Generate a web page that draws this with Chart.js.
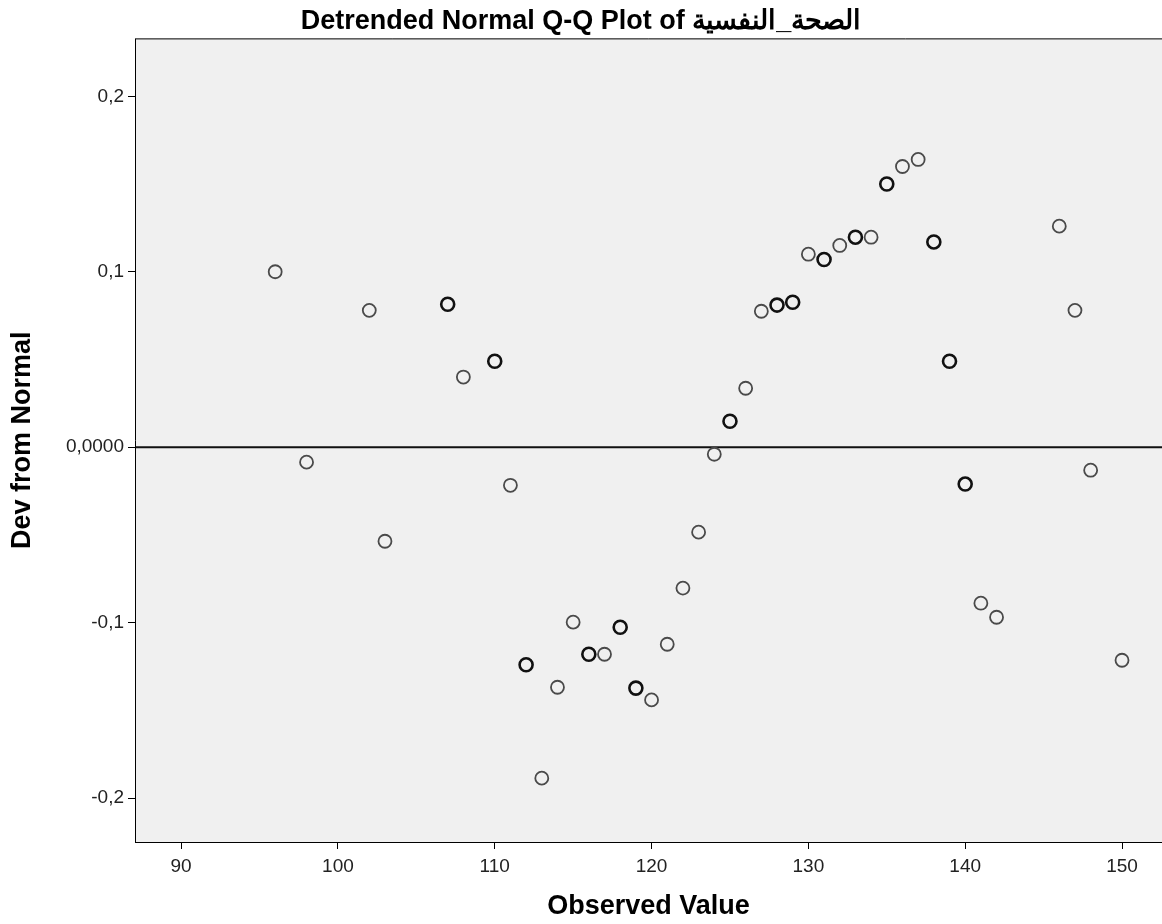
<!DOCTYPE html>
<html>
<head>
<meta charset="utf-8">
<script src="https://cdn.jsdelivr.net/npm/chart.js@4"></script>
<style>
  html, body { margin: 0; padding: 0; background: #fff; overflow: hidden; }
  #wrap { width: 1162px; height: 924px; }
</style>
</head>
<body>
<div id="wrap"><canvas id="qq"></canvas></div>
<script>
var observed = [96, 98, 102, 103, 107, 108, 110, 111, 112, 113, 114, 115, 116, 117, 118,
  119, 120, 121, 122, 123, 124, 125, 126, 127, 128, 129, 130, 131, 132, 133, 134, 135,
  136, 137, 138, 139, 140, 141, 142, 146, 147, 148, 150];
var devNormal = [0.100, -0.0085, 0.078, -0.0536, 0.0815, 0.040, 0.049, -0.0217, -0.124,
  -0.1886, -0.1368, -0.0997, -0.118, -0.118, -0.1026, -0.1373, -0.144, -0.1123, -0.0803,
  -0.0484, -0.004, 0.0148, 0.0336, 0.0775, 0.081, 0.0826, 0.110, 0.107, 0.115, 0.1197,
  0.1197, 0.150, 0.160, 0.164, 0.117, 0.049, -0.021, -0.0889, -0.0969, 0.126, 0.078,
  -0.0131, -0.1214];
// markers that look darker (several cases on top of each other)
var darker = [107, 110, 112, 116, 118, 119, 125, 128, 129, 131, 133, 135, 138, 139, 140];

var xTicks = [90, 100, 110, 120, 130, 140, 150];
var yTicks = [0.2, 0.1, 0, -0.1, -0.2];
var yTickLabels = ["0,2", "0,1", "0,0000", "-0,1", "-0,2"];

var pts = [];
for (var i = 0; i < observed.length; i++) {
  pts.push({x: observed[i], y: devNormal[i]});
}
var ptColors = observed.map(function (v) { return darker.indexOf(v) >= 0 ? '#111' : '#4a4a4a'; });
var ptWidths = observed.map(function (v) { return darker.indexOf(v) >= 0 ? 2.6 : 1.8; });

var font = 'Arial, "Liberation Sans", sans-serif';

var frame = {
  id: 'frame',
  beforeDatasetsDraw: function (chart) {
    var a = chart.chartArea, ctx = chart.ctx;
    ctx.save();
    ctx.fillStyle = '#f0f0f0';
    ctx.fillRect(a.left, a.top, a.right - a.left, a.bottom - a.top);
    var y0 = chart.scales.y.getPixelForValue(0);
    ctx.strokeStyle = '#111';
    ctx.lineWidth = 2;
    ctx.beginPath();
    ctx.moveTo(a.left, y0);
    ctx.lineTo(a.right, y0);
    ctx.stroke();
    ctx.lineWidth = 1;
    ctx.strokeStyle = '#000';
    ctx.beginPath();
    ctx.moveTo(a.left + 0.5, a.bottom);
    ctx.lineTo(a.left + 0.5, a.top + 0.5);
    ctx.lineTo(a.right, a.top + 0.5);
    ctx.stroke();
    ctx.restore();
  }
};

var ctx = document.getElementById('qq');
var chart = new Chart(ctx, {
  type: 'scatter',
  data: {
    datasets: [{
      data: pts,
      pointRadius: 6.5,
      pointHoverRadius: 6.5,
      borderColor: ptColors,
      borderWidth: ptWidths,
      backgroundColor: 'rgba(0,0,0,0)'
    }]
  },
  options: {
    responsive: true,
    maintainAspectRatio: false,
    animation: false,
    layout: { padding: 0, autoPadding: false },
    plugins: {
      legend: { display: false },
      tooltip: { enabled: false },
      title: {
        display: true,
        text: 'Detrended Normal Q-Q Plot of الصحة_النفسية',
        color: '#000',
        font: { family: font, size: 27, weight: 'bold', lineHeight: 1.2 },
        padding: { top: 5, bottom: 1 }
      }
    },
    scales: {
      x: {
        type: 'linear',
        min: 87.06,
        max: 152.55,
        afterBuildTicks: function (s) { s.ticks = xTicks.map(function (v) { return {value: v}; }); },
        afterFit: function (s) { s.height = 82; s.paddingRight = 0; s.paddingLeft = 0; },
        grid: { display: true, drawOnChartArea: false, tickLength: 7, tickColor: '#000' },
        border: { display: true, color: '#000' },
        ticks: { color: '#222', padding: 6, font: { family: font, size: 19 } },
        title: {
          display: true,
          text: 'Observed Value',
          color: '#000',
          font: { family: font, size: 27, weight: 'bold', lineHeight: 1.2 },
          padding: { top: 1, bottom: 1 }
        }
      },
      y: {
        type: 'linear',
        min: -0.225,
        max: 0.233,
        afterBuildTicks: function (s) { s.ticks = yTicks.map(function (v) { return {value: v}; }); },
        afterFit: function (s) { s.width = 135; },
        grid: { display: true, drawOnChartArea: false, tickLength: 7, tickColor: '#000' },
        border: { display: true, color: '#000' },
        ticks: {
          color: '#222',
          padding: 4,
          font: { family: font, size: 19 },
          callback: function (v) {
            var k = yTicks.indexOf(v);
            return k >= 0 ? yTickLabels[k] : '';
          }
        },
        title: {
          display: true,
          text: 'Dev from Normal',
          color: '#000',
          font: { family: font, size: 27, weight: 'bold', lineHeight: 1.2 },
          padding: { top: 6, bottom: 6 }
        }
      }
    }
  },
  plugins: [frame]
});
</script>
</body>
</html>
